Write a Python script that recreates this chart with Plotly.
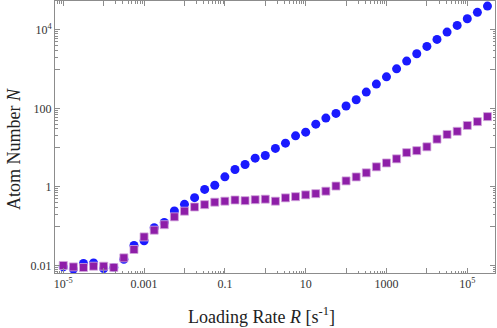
import plotly.graph_objects as go

# loading rate R [1/s] (quarter-decade steps)
rate = [1e-5, 1.78e-5, 3.16e-5, 5.62e-5,
        1e-4, 1.78e-4, 3.16e-4, 5.62e-4,
        1e-3, 1.78e-3, 3.16e-3, 5.62e-3,
        1e-2, 1.78e-2, 3.16e-2, 5.62e-2,
        0.1, 0.178, 0.316, 0.562,
        1, 1.78, 3.16, 5.62,
        10, 17.8, 31.6, 56.2,
        100, 178, 316, 562,
        1000, 1780, 3160, 5620,
        1e4, 1.78e4, 3.16e4, 5.62e4,
        1e5, 1.78e5, 3.16e5]

# atom number, blue circles
atoms_blue = [0.0091, 0.0080, 0.0111, 0.0115, 0.0083, 0.0088, 0.0143, 0.032,
              0.042, 0.091, 0.124, 0.243, 0.358, 0.53, 0.86, 1.10,
              1.80, 2.78, 3.72, 5.40, 6.32, 9.55, 13.0, 20.0,
              24.8, 39.7, 56.6, 74.5, 115, 166, 261, 417,
              640, 1023, 1611, 2472, 3820, 5754, 8830, 13090,
              19320, 28120, 40740]

# atom number, purple squares
atoms_purple = [0.0099, 0.0091, 0.0088, 0.0095, 0.0095, 0.0088, 0.0155, 0.0253,
                0.053, 0.0786, 0.1086, 0.172, 0.240, 0.307, 0.352, 0.407,
                0.432, 0.463, 0.445, 0.471, 0.486, 0.432, 0.524, 0.562,
                0.625, 0.671, 0.777, 1.05, 1.42, 1.79, 2.28, 3.24,
                4.07, 5.18, 7.45, 8.38, 10.5, 16.5, 21.7, 26.1,
                36.8, 46.0, 61.8]

x_major = [10.0**k for k in range(-6, 7)]
x_labels = {-5: '10<sup>-5</sup>', -3: '0.001', -1: '0.1', 1: '10', 3: '1000', 5: '10<sup>5</sup>'}
x_text = [x_labels.get(k, '') for k in range(-6, 7)]
x_minor = [m * 10.0**(k - 1) for k in x_labels for m in range(2, 10)]

y_major = [10.0**k for k in range(-3, 6)]
y_labels = {-2: '0.01', 0: '1', 2: '100', 4: '10<sup>4</sup>'}
y_text = [y_labels.get(k, '') for k in range(-3, 6)]
y_minor = [m * 10.0**(k - 1) for k in y_labels for m in range(2, 10)]

frame = '#8c8c8c'
serif = 'Liberation Serif'

fig = go.Figure()
fig.add_trace(go.Scatter(x=rate, y=atoms_blue, mode='markers',
                         marker=dict(symbol='circle', size=9, color='#1a1aff'),
                         showlegend=False))
fig.add_trace(go.Scatter(x=rate, y=atoms_purple, mode='markers',
                         marker=dict(symbol='square', size=8, color='#8e1ea8',
                                     line=dict(width=0.8, color='#d2a6dc')),
                         showlegend=False))

axis_common = dict(type='log', showgrid=False, zeroline=False,
                   showline=True, linecolor=frame, linewidth=1, mirror='allticks',
                   ticks='inside', ticklen=5, tickcolor=frame, tickwidth=1,
                   tickmode='array',
                   tickfont=dict(family=serif, size=12, color='#333333'))

fig.update_xaxes(range=[-5.205, 5.686], tickvals=x_major, ticktext=x_text,
                 minor=dict(tickmode='array', tickvals=x_minor, ticks='inside',
                            ticklen=2.5, tickcolor=frame, showgrid=False),
                 **axis_common)
fig.update_yaxes(range=[-2.196, 4.739], tickvals=y_major, ticktext=y_text,
                 minor=dict(tickmode='array', tickvals=y_minor, ticks='inside',
                            ticklen=2.5, tickcolor=frame, showgrid=False),
                 **axis_common)

fig.update_layout(
    width=497, height=328,
    margin=dict(l=55, r=2, t=1, b=55),
    paper_bgcolor='white', plot_bgcolor='white',
    annotations=[
        dict(text='Loading Rate <i>R</i> [s<sup>-1</sup>]', xref='paper', yref='paper',
             x=0.469, y=-0.158, xanchor='center', yanchor='middle', showarrow=False,
             font=dict(family=serif, size=18, color='#222222')),
        dict(text='Atom Number <i>N</i>', xref='paper', yref='paper', textangle=-90,
             x=-0.093, y=0.456, xanchor='center', yanchor='middle', showarrow=False,
             font=dict(family=serif, size=18, color='#222222')),
    ],
)

# page body has a default 8px margin; drop it so the figure sits at the corner
fig.write_html("out.html", config={'displayModeBar': False},
               post_script="document.body.style.margin='0';")
